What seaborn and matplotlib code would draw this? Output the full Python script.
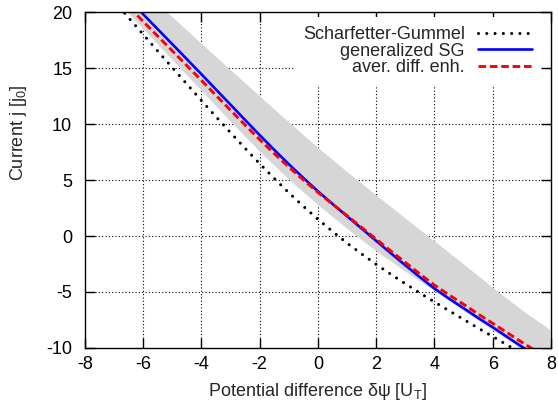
import matplotlib
matplotlib.use("Agg")
import matplotlib.pyplot as plt
import seaborn as sns
import pandas as pd

# values
x_sg = [-7, -6.5, -6, -5.5, -5, -4.5, -4, -3.5, -3, -2.5, -2, -1.5, -1, -0.5,
        0, 0.5, 1, 1.5, 2, 2.5, 3, 3.5, 4, 4.5, 5, 5.5, 6, 6.5, 7]
j_sg = [21.01, 19.51, 18.02, 16.53, 15.05, 13.58, 12.11, 10.66, 9.24, 7.84,
        6.47, 5.15, 3.87, 2.66, 1.5, 0.41, -0.63, -1.60, -2.53, -3.41, -4.26,
        -5.09, -5.89, -6.67, -7.45, -8.22, -8.98, -9.74, -10.49]

x_gen = [-7, -6.5, -6, -5.5, -5, -4.5, -4, -3.5, -3, -2.5, -2, -1.5, -1, -0.5,
         0, 0.5, 1, 1.5, 2, 2.5, 3, 3.5, 4, 4.5, 5, 5.5, 6, 6.5, 7, 7.5]
j_gsg = [22.61, 21.21, 19.82, 18.48, 17.15, 15.80, 14.46, 13.09, 11.74, 10.37,
         9.02, 7.70, 6.42, 5.19, 4.00, 2.87, 1.77, 0.67, -0.43, -1.53, -2.61,
         -3.67, -4.69, -5.59, -6.45, -7.32, -8.15, -9.02, -9.89, -10.7]
j_ade = [21.91, 20.53, 19.17, 17.86, 16.55, 15.23, 13.91, 12.57, 11.24, 9.92,
         8.62, 7.37, 6.17, 5.01, 3.90, 2.85, 1.82, 0.77, -0.28, -1.33, -2.36,
         -3.39, -4.39, -5.26, -6.10, -6.97, -7.80, -8.64, -9.49, -10.30]

x_band = [-7, -6, -5, -4, -3, -2, -1, 0, 1, 2, 3, 4, 5, 6, 7, 7.95]
band_lo = [21.3, 18.52, 15.75, 13.01, 10.24, 7.57, 5.07, 2.8, 0.67, -1.33,
           -3.16, -4.89, -6.65, -8.38, -10.09, -11.5]
band_hi = [24.3, 21.9, 19.58, 17.2, 14.85, 12.5, 10.18, 7.9, 5.75, 3.65,
           1.6, -0.45, -2.5, -4.6, -6.6, -8.35]

x_ticks = [-8, -6, -4, -2, 0, 2, 4, 6, 8]
y_ticks = [-10, -5, 0, 5, 10, 15, 20]

sns.set_theme(style="ticks")
plt.rcParams["font.family"] = ["Liberation Sans", "DejaVu Sans"]
plt.rcParams["mathtext.fontset"] = "custom"
plt.rcParams["mathtext.rm"] = "Liberation Sans"
plt.rcParams["mathtext.it"] = "Liberation Sans:italic"
plt.rcParams["axes.unicode_minus"] = False

fs = 13

fig = plt.figure(figsize=(5.58, 4.01), dpi=100)
ax = fig.add_axes([0.1518, 0.1322, 0.8357, 0.8378])

# grid behind everything (gnuplot style)
for xv in x_ticks[1:-1]:
    ax.axvline(xv, color="black", lw=0.8, ls=(0, (1, 2)), zorder=0.5)
for yv in y_ticks[1:-1]:
    ax.axhline(yv, color="black", lw=0.8, ls=(0, (1, 2)), zorder=0.5)

ax.fill_between(x_band, band_lo, band_hi, color="#d6d6d6", lw=0, zorder=1)

df_sg = pd.DataFrame({"x": x_sg, "j": j_sg})
df_gen = pd.DataFrame({"x": x_gen, "gsg": j_gsg, "ade": j_ade})

sns.lineplot(data=df_sg, x="x", y="j", ax=ax, color="black", lw=2.2,
             ls=(0, (0.01, 2.7)), dash_capstyle="round",
             label="Scharfetter-Gummel", zorder=3)
sns.lineplot(data=df_gen, x="x", y="gsg", ax=ax, color="#0000ff", lw=1.9,
             label="generalized SG", zorder=3)
sns.lineplot(data=df_gen, x="x", y="ade", ax=ax, color="#ff0000", lw=2.1,
             ls=(0, (2.6, 1.3)), label="aver. diff. enh.", zorder=3)

ax.set_xlim(-8, 8)
ax.set_ylim(-10, 20)
ax.set_xticks(x_ticks)
ax.set_yticks(y_ticks)
ax.tick_params(direction="in", length=7, width=1, top=True, right=True,
               labelsize=fs, color="black", labelcolor="black")
ax.tick_params(axis="x", pad=6)
ax.tick_params(axis="y", pad=9)
for sp in ax.spines.values():
    sp.set_visible(True)
    sp.set_color("black")
    sp.set_linewidth(1.0)
    sp.set_zorder(4)

ax.set_xlabel(r"Potential difference δψ [U$_\mathrm{T}$]", fontsize=fs)
ax.set_ylabel(r"Current j [j$_\mathrm{0}$]", fontsize=fs)
ax.xaxis.label.set_va("center")
ax.xaxis.set_label_coords(0.5, -0.13)
ax.yaxis.label.set_va("center")
ax.yaxis.set_label_coords(-0.141, 0.64)

leg = ax.legend(loc="upper right", bbox_to_anchor=(0.978, 0.985),
                markerfirst=False, frameon=True, fancybox=False,
                facecolor="white", edgecolor="none", framealpha=1,
                fontsize=fs, handlelength=3.0, handletextpad=0.7,
                labelspacing=-0.03, borderpad=0.5, borderaxespad=0)
leg.set_zorder(2)
for t in leg.get_texts():
    t.set_ha("right")
leg._legend_box.align = "right"

fig.savefig("out.png", dpi=100)
